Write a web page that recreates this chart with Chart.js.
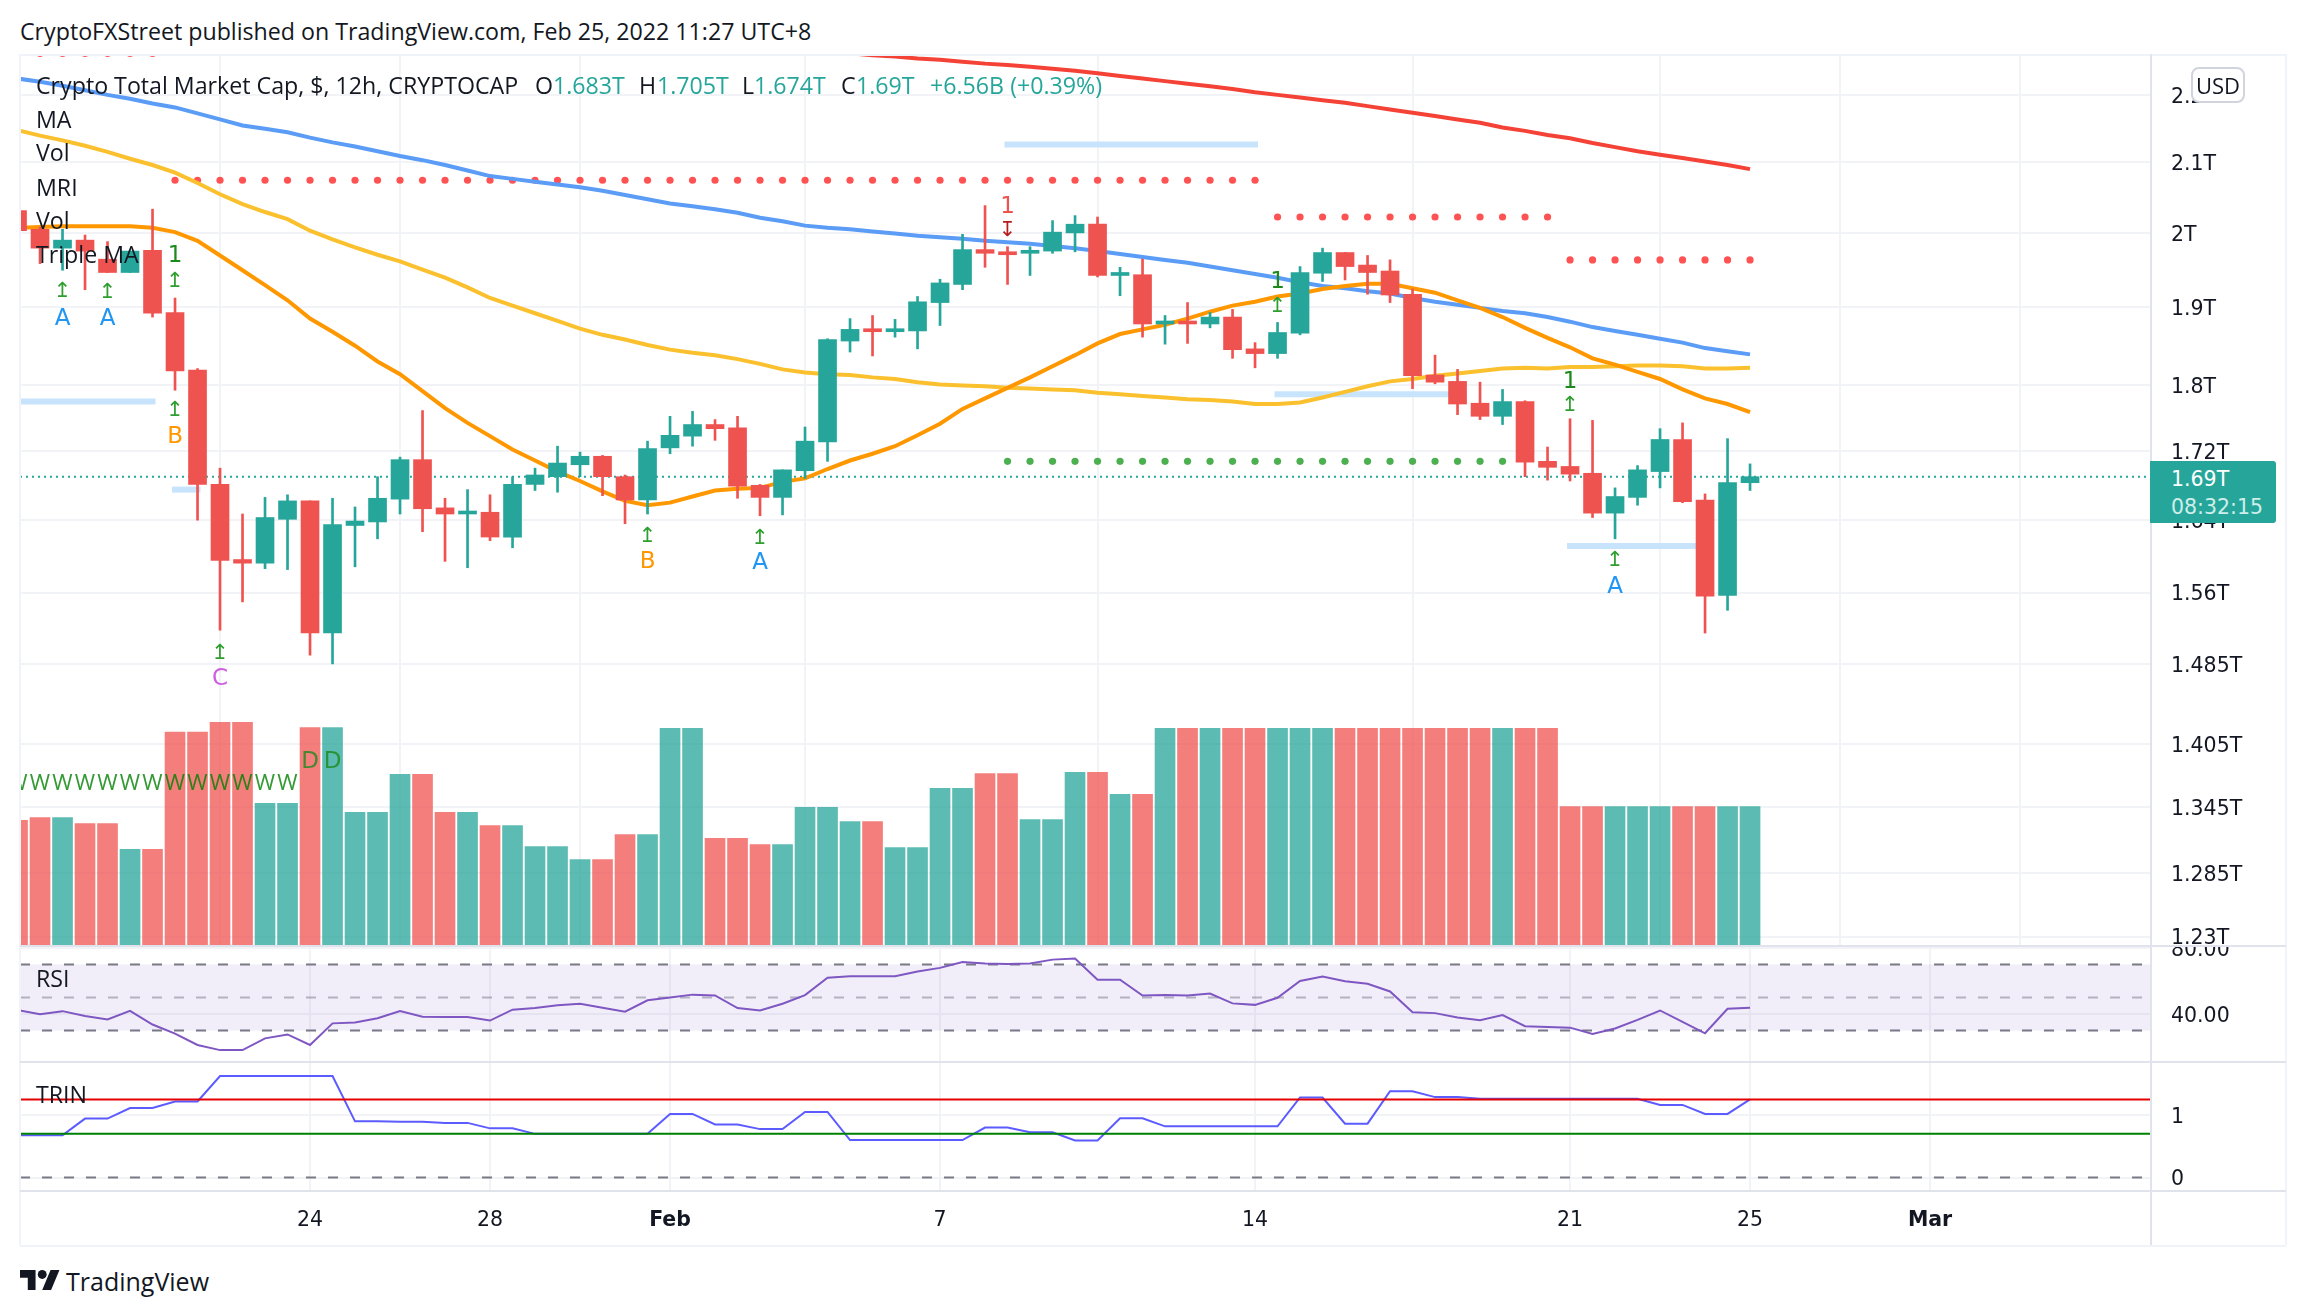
<!DOCTYPE html>
<html lang="en">
<head>
<meta charset="UTF-8" />
<title>Crypto Total Market Cap</title>
<script src="https://cdn.jsdelivr.net/npm/chart.js"></script>
<style>
  html, body { margin: 0; padding: 0; background: #fff; overflow: hidden; }
  body { width: 2306px; height: 1316px; position: relative; font-family: "Open Sans", sans-serif; color: #131722; }
  canvas { position: absolute; left: 20px; }
  .txt { position: absolute; white-space: pre; font-size: 23.2px; line-height: 26px; transform: translateY(-50%); z-index: 5; }
  .up { color: #26a69a; }
  .rule { position: absolute; background: #e0e3eb; z-index: 4; }
  .frame { position: absolute; background: #f0f3fa; z-index: 4; }
</style>
</head>
<body>
<canvas id="mainChart" width="2266" height="892" style="top:54px"></canvas>
<canvas id="rsiChart" width="2266" height="116" style="top:946px"></canvas>
<canvas id="trinChart" width="2266" height="184" style="top:1062px"></canvas>

<div class="frame" style="left:20px;top:54px;width:2266px;height:2px"></div>
<div class="frame" style="left:19px;top:54px;width:2px;height:1191px"></div>
<div class="frame" style="left:2285px;top:54px;width:2px;height:1191px"></div>
<div class="frame" style="left:20px;top:1245px;width:2266px;height:2px"></div>
<div class="rule" style="left:2150px;top:54px;width:2px;height:1191px"></div>
<div class="rule" style="left:20px;top:945px;width:2266px;height:2px"></div>
<div class="rule" style="left:20px;top:1061px;width:2266px;height:2px"></div>
<div class="rule" style="left:20px;top:1190px;width:2266px;height:2px"></div>

<div class="txt" style="left:20px;top:31px">CryptoFXStreet published on TradingView.com, Feb 25, 2022 11:27 UTC+8</div>
<div class="txt" style="left:36px;top:85px">Crypto Total Market Cap, $, 12h, CRYPTOCAP</div>
<div class="txt" style="left:535px;top:85px">O</div>
<div class="txt up" style="left:553px;top:85px">1.683T</div>
<div class="txt" style="left:639px;top:85px">H</div>
<div class="txt up" style="left:657px;top:85px">1.705T</div>
<div class="txt" style="left:742px;top:85px">L</div>
<div class="txt up" style="left:754px;top:85px">1.674T</div>
<div class="txt" style="left:841px;top:85px">C</div>
<div class="txt up" style="left:856px;top:85px">1.69T</div>
<div class="txt up" style="left:930px;top:85px">+6.56B (+0.39%)</div>
<div class="txt" style="left:36px;top:119px">MA</div>
<div class="txt" style="left:36px;top:152px">Vol</div>
<div class="txt" style="left:36px;top:187px">MRI</div>
<div class="txt" style="left:36px;top:220px">Vol</div>
<div class="txt" style="left:36px;top:254px">Triple MA</div>
<div class="txt" style="left:36px;top:978px">RSI</div>
<div class="txt" style="left:36px;top:1094px">TRIN</div>

<div style="position:absolute;left:2191px;top:67px;width:50px;height:32px;border:2px solid #d1d4dc;border-radius:8px;background:#fff;z-index:6;text-align:center;font-size:22px;line-height:32px">USD</div>
<div style="position:absolute;left:2150px;top:461px;width:126px;height:62px;background:#26a69a;border-radius:0 3px 3px 0;z-index:6;color:#fff;font-family:'DejaVu Sans',sans-serif;font-size:20.5px">
  <div style="position:absolute;left:21px;top:6px">1.69T</div>
  <div style="position:absolute;left:21px;top:34px;color:#cfeeea;font-size:20.5px">08:32:15</div>
</div>

<svg style="position:absolute;left:20px;top:1270px" width="40" height="20" viewBox="0 4 36 18"><path fill="#131722" d="M14 22H7V11H0V4h14v18zM28 22h-8l7.5-18h8L28 22z"/><circle fill="#131722" cx="20" cy="8" r="4"/></svg>
<div class="txt" style="left:66px;top:1281px;font-size:25px;font-weight:500">TradingView</div>

<script>
// every series starts at bar -13, bar 0 is the 24 Jan candle (12h bars)
const firstBar = -13;
const priceTicks = [2.2, 2.1, 2, 1.9, 1.8, 1.72, 1.64, 1.56, 1.485, 1.405, 1.345, 1.285, 1.23];
const dateTicks = [0, 8, 16, 28, 42, 56, 64, 72];
const dateLabels = ["24", "28", "Feb", "7", "14", "21", "25", "Mar"];
const monthLabels = ["Feb", "Mar"];

const opens = [2.031, 2.005, 1.979, 1.99, 1.964, 1.946, 1.976, 1.893, 1.819, 1.681, 1.596, 1.592, 1.641, 1.662, 1.517, 1.634, 1.638, 1.664, 1.71, 1.654, 1.647, 1.649, 1.621, 1.681, 1.69, 1.704, 1.714, 1.69, 1.663, 1.724, 1.738, 1.752, 1.748, 1.68, 1.666, 1.697, 1.731, 1.856, 1.871, 1.868, 1.869, 1.906, 1.93, 1.977, 1.974, 1.972, 1.975, 2.0, 2.012, 1.942, 1.943, 1.878, 1.88, 1.878, 1.887, 1.846, 1.84, 1.866, 1.945, 1.973, 1.956, 1.948, 1.917, 1.813, 1.805, 1.778, 1.762, 1.78, 1.708, 1.702, 1.694, 1.648, 1.666, 1.696, 1.734, 1.663, 1.557, 1.683];
const highs = [2.035, 2.008, 2.005, 1.997, 1.988, 1.975, 2.033, 1.912, 1.821, 1.7, 1.647, 1.666, 1.669, 1.662, 1.665, 1.655, 1.69, 1.713, 1.769, 1.665, 1.675, 1.669, 1.69, 1.7, 1.726, 1.719, 1.715, 1.692, 1.732, 1.762, 1.768, 1.758, 1.762, 1.681, 1.698, 1.749, 1.859, 1.885, 1.889, 1.884, 1.914, 1.937, 1.998, 2.038, 1.981, 1.981, 2.017, 2.024, 2.022, 1.953, 1.964, 1.889, 1.906, 1.893, 1.897, 1.854, 1.88, 1.954, 1.979, 1.973, 1.969, 1.963, 1.924, 1.838, 1.82, 1.804, 1.795, 1.781, 1.725, 1.759, 1.757, 1.677, 1.703, 1.747, 1.754, 1.67, 1.735, 1.705];
const lows = [2.0, 1.958, 1.949, 1.923, 1.946, 1.946, 1.887, 1.794, 1.64, 1.52, 1.55, 1.586, 1.585, 1.494, 1.485, 1.588, 1.619, 1.647, 1.627, 1.594, 1.587, 1.617, 1.609, 1.674, 1.672, 1.69, 1.668, 1.636, 1.647, 1.717, 1.726, 1.733, 1.665, 1.645, 1.646, 1.688, 1.708, 1.842, 1.837, 1.861, 1.846, 1.876, 1.923, 1.953, 1.93, 1.942, 1.972, 1.974, 1.94, 1.915, 1.861, 1.852, 1.853, 1.873, 1.834, 1.822, 1.834, 1.864, 1.934, 1.936, 1.917, 1.906, 1.796, 1.802, 1.764, 1.758, 1.752, 1.69, 1.686, 1.685, 1.643, 1.619, 1.657, 1.677, 1.66, 1.517, 1.541, 1.674];
const closes = [2.003, 1.979, 1.99, 1.975, 1.946, 1.975, 1.892, 1.818, 1.681, 1.595, 1.592, 1.643, 1.662, 1.517, 1.635, 1.639, 1.665, 1.71, 1.653, 1.647, 1.649, 1.621, 1.681, 1.692, 1.706, 1.714, 1.69, 1.663, 1.723, 1.739, 1.752, 1.747, 1.679, 1.666, 1.698, 1.732, 1.858, 1.871, 1.868, 1.871, 1.907, 1.932, 1.977, 1.972, 1.97, 1.976, 2.001, 2.012, 1.942, 1.944, 1.878, 1.88, 1.878, 1.887, 1.845, 1.84, 1.867, 1.946, 1.973, 1.954, 1.946, 1.916, 1.812, 1.804, 1.777, 1.762, 1.78, 1.707, 1.701, 1.693, 1.648, 1.667, 1.698, 1.734, 1.661, 1.556, 1.683, 1.69];
const volumes = [124.6, 127.3, 127.3, 121.4, 121.4, 95.5, 95.5, 212.6, 212.6, 222.4, 222.4, 141.5, 141.5, 217.3, 217.3, 132.4, 132.4, 170.5, 170.5, 132.4, 132.4, 119.4, 119.4, 98.2, 98.2, 85.3, 85.3, 110.4, 110.4, 216.5, 216.5, 106.5, 106.5, 100.2, 100.2, 137.5, 137.5, 123.4, 123.4, 97.4, 97.4, 156.4, 156.4, 171.3, 171.3, 125.3, 125.3, 172.5, 172.5, 150.5, 150.5, 216.5, 216.5, 216.5, 216.5, 216.5, 216.5, 216.5, 216.5, 216.5, 216.5, 216.5, 216.5, 216.5, 216.5, 216.5, 216.5, 216.5, 216.5, 138.3, 138.3, 138.3, 138.3, 138.3, 138.3, 138.3, 138.3, 138.3];

const blueMa = [2.225, 2.22, 2.214, 2.207, 2.2, 2.194, 2.187, 2.181, 2.172, 2.163, 2.154, 2.149, 2.144, 2.136, 2.129, 2.123, 2.116, 2.109, 2.103, 2.096, 2.088, 2.08, 2.076, 2.072, 2.068, 2.064, 2.059, 2.053, 2.047, 2.041, 2.037, 2.033, 2.028, 2.021, 2.016, 2.01, 2.007, 2.005, 2.002, 1.999, 1.996, 1.994, 1.992, 1.989, 1.987, 1.985, 1.982, 1.979, 1.975, 1.971, 1.967, 1.963, 1.959, 1.954, 1.949, 1.944, 1.939, 1.933, 1.928, 1.925, 1.921, 1.918, 1.912, 1.907, 1.903, 1.899, 1.895, 1.892, 1.887, 1.881, 1.874, 1.869, 1.864, 1.859, 1.854, 1.847, 1.843, 1.839];
const yellowMa = [2.147, 2.139, 2.132, 2.124, 2.115, 2.105, 2.096, 2.085, 2.07, 2.054, 2.04, 2.029, 2.019, 2.003, 1.991, 1.98, 1.97, 1.961, 1.95, 1.939, 1.926, 1.912, 1.902, 1.892, 1.882, 1.872, 1.864, 1.858, 1.851, 1.845, 1.841, 1.838, 1.833, 1.827, 1.82, 1.816, 1.814, 1.813, 1.81, 1.808, 1.804, 1.801, 1.8, 1.799, 1.797, 1.796, 1.795, 1.794, 1.791, 1.789, 1.787, 1.785, 1.783, 1.782, 1.78, 1.777, 1.777, 1.779, 1.785, 1.792, 1.799, 1.805, 1.808, 1.812, 1.815, 1.818, 1.821, 1.822, 1.821, 1.823, 1.823, 1.824, 1.825, 1.825, 1.824, 1.821, 1.821, 1.822];
const orangeMa = [2.007, 2.008, 2.009, 2.009, 2.009, 2.009, 2.007, 2.001, 1.989, 1.969, 1.949, 1.929, 1.909, 1.885, 1.868, 1.85, 1.83, 1.814, 1.793, 1.772, 1.754, 1.738, 1.722, 1.709, 1.696, 1.685, 1.673, 1.662, 1.657, 1.66, 1.667, 1.674, 1.676, 1.677, 1.684, 1.688, 1.699, 1.709, 1.717, 1.726, 1.739, 1.753, 1.771, 1.784, 1.797, 1.81, 1.824, 1.838, 1.853, 1.865, 1.871, 1.877, 1.885, 1.894, 1.902, 1.907, 1.914, 1.918, 1.924, 1.928, 1.931, 1.931, 1.925, 1.919, 1.909, 1.899, 1.887, 1.873, 1.86, 1.848, 1.834, 1.826, 1.817, 1.808, 1.795, 1.784, 1.777, 1.767];
// slow MA only comes into the visible range at bar 24
const redMaStart = 24;
const redMa = [2.264, 2.261, 2.259, 2.256, 2.254, 2.251, 2.248, 2.246, 2.243, 2.24, 2.237, 2.233, 2.229, 2.225, 2.221, 2.217, 2.213, 2.209, 2.204, 2.2, 2.196, 2.192, 2.188, 2.183, 2.178, 2.173, 2.168, 2.163, 2.158, 2.151, 2.146, 2.14, 2.135, 2.128, 2.122, 2.116, 2.111, 2.106, 2.101, 2.096, 2.09];

const rsiValues = [42.4, 39.8, 41.7, 38.8, 36.7, 41.9, 33.6, 28.1, 21.2, 18.1, 18.1, 25.2, 27.6, 21.2, 34.3, 34.8, 37.4, 41.7, 38.3, 38.1, 38.1, 36, 42.6, 43.6, 45.2, 46.2, 43.8, 41.4, 48.3, 50, 51.7, 51.2, 43.6, 42.1, 46.2, 51.4, 61.9, 62.9, 62.9, 62.9, 65.7, 67.9, 71.4, 70.5, 70.2, 70.5, 72.9, 73.6, 60.7, 60.7, 51.2, 51.4, 51.2, 52.4, 46.4, 45.5, 49.8, 60, 62.6, 59.8, 58.3, 53.6, 41, 40.5, 37.9, 36.2, 39.3, 32.6, 32.1, 31.7, 27.9, 31.2, 36.4, 42.1, 35.2, 28.3, 43.1, 43.8];
const trinValues = [0.676, 0.676, 0.676, 0.945, 0.945, 1.114, 1.114, 1.22, 1.22, 1.627, 1.627, 1.627, 1.627, 1.627, 1.627, 0.901, 0.901, 0.895, 0.895, 0.876, 0.876, 0.788, 0.788, 0.7, 0.7, 0.7, 0.7, 0.7, 0.7, 1.02, 1.02, 0.851, 0.851, 0.776, 0.776, 1.051, 1.051, 0.6, 0.6, 0.6, 0.6, 0.6, 0.6, 0.801, 0.801, 0.726, 0.726, 0.594, 0.594, 0.951, 0.951, 0.82, 0.82, 0.82, 0.82, 0.82, 0.82, 1.283, 1.283, 0.864, 0.864, 1.383, 1.383, 1.289, 1.289, 1.264, 1.264, 1.264, 1.264, 1.264, 1.264, 1.264, 1.264, 1.164, 1.164, 1.02, 1.02, 1.252];

const lastPrice = 1.69;
const rsiLevels = [70, 50, 30];
const rsiTicks = [80, 40];
const trinTicks = [1, 0];
const trinUpper = 1.25;
const trinLower = 0.7;

// dotted stop levels: price, first bar, last bar
const redDotPrices = [2.264, 2.074, 2.022, 1.963];
const redDotFrom = [-13, -6, 43, 56];
const redDotTo = [-7, 42, 55, 64];
const greenDotPrice = 1.708;
const greenDotFrom = 31;
const greenDotTo = 53;

const stripPrices = [1.78, 1.675, 2.126, 1.789, 1.611];
const stripFrom = [-13, -6, 31, 43, 56];
const stripTo = [-7, -5, 42, 51, 62];

// signal letters and arrows on the price pane
const markBars = [-11, -11, -9, -9, -6, -6, -6, -6, -4, -4, 15, 15, 20, 20, 31, 31, 43, 43, 56, 56, 58, 58, 0, 1];
const markPrices = [1.923, 1.887, 1.922, 1.887, 1.971, 1.936, 1.771, 1.739, 1.498, 1.472, 1.624, 1.595, 1.622, 1.594, 2.039, 2.006, 1.936, 1.903, 1.807, 1.777, 1.597, 1.568, 1.39, 1.39];
const markTexts = ["↥", "A", "↥", "A", "1", "↥", "↥", "B", "↥", "C", "↥", "B", "↥", "A", "1", "↧", "1", "↥", "1", "↥", "↥", "A", "D", "D"];
const markKinds = ["arrow", "blue", "arrow", "blue", "green", "arrow", "arrow", "orange", "arrow", "purple", "arrow", "orange", "arrow", "blue", "red", "darkred", "green", "arrow", "green", "arrow", "arrow", "blue", "green", "green"];
const wPrice = 1.368;
const wFrom = -13;
const wTo = -1;

const markColors = { arrow: "#2e9e2e", green: "#1b8a1b", blue: "#2196f3", orange: "#ff9800", purple: "#d05ce3", red: "#ef5350", darkred: "#b71c1c" };

const xMin = -12.89;
const xMax = 81.82;
const green = "#26a69a";
const red = "#ef5350";
const gridColor = "#f2f3f6";
const bars = opens.map((o, n) => n + firstBar);
const candleColors = opens.map((o, n) => (closes[n] >= o ? green : red));
const volumeColors = opens.map((o, n) => (closes[n] >= o ? "rgba(38,166,154,0.75)" : "rgba(239,83,80,0.75)"));

function series(values, start) {
  return values.map((y, n) => ({ x: n + start, y }));
}
function hline(y) {
  return [{ x: xMin, y }, { x: xMax, y }];
}
function lineSet(data, color, width, order, extra) {
  return Object.assign({ type: "line", data, borderColor: color, borderWidth: width, pointRadius: 0, tension: 0, order }, extra);
}
function dotSet(price, from, to, color) {
  const data = [];
  for (let b = from; b <= to; b++) data.push({ x: b, y: price });
  return { type: "line", data, showLine: false, pointRadius: 3.6, pointBackgroundColor: color, pointBorderWidth: 0, order: 6 };
}

function xScale(showLabels) {
  return {
    type: "linear",
    min: xMin,
    max: xMax,
    offset: false,
    grid: { color: gridColor, lineWidth: 2, drawTicks: false },
    border: { display: false },
    afterBuildTicks: (s) => { s.ticks = dateTicks.map((value) => ({ value })); },
    afterFit: (s) => {
      s.height = showLabels ? 56 : 0;
      s.paddingLeft = s.paddingRight = 0;
    },
    ticks: {
      display: showLabels,
      autoSkip: false,
      maxRotation: 0,
      padding: 18,
      color: "#131722",
      font: (c) => ({ family: "'DejaVu Sans'", size: 20.5, weight: monthLabels.includes(dateLabels[c.index]) ? "bold" : "normal" }),
      callback: (v) => dateLabels[dateTicks.indexOf(v)],
    },
  };
}
function yScale(extra, tickValues, label) {
  return Object.assign({
    position: "right",
    grid: { color: gridColor, lineWidth: 2, drawTicks: false },
    border: { display: false },
    afterBuildTicks: (s) => { s.ticks = tickValues.map((value) => ({ value })); },
    // tick padding would otherwise shrink the pane from top and bottom
    afterFit: (s) => {
      s.width = 135;
      s.paddingTop = s.paddingBottom = 0;
    },
    ticks: {
      autoSkip: false,
      padding: 20,
      labelOffset: 2.5,
      color: "#131722",
      font: { family: "'DejaVu Sans'", size: 20.5 },
      callback: label,
    },
  }, extra);
}
const baseOptions = {
  responsive: false,
  animation: false,
  events: [],
  layout: { padding: 0, autoPadding: false },
  plugins: { legend: { display: false }, tooltip: { enabled: false } },
};

const markPlugin = {
  id: "marks",
  afterDatasetsDraw(chart) {
    const { ctx, scales } = chart;
    ctx.save();
    ctx.textAlign = "center";
    ctx.textBaseline = "middle";
    markTexts.forEach((t, n) => {
      const small = markKinds[n] === "arrow" || t === "↧";
      ctx.font = (small ? "21px" : "23px") + " 'DejaVu Sans'";
      if (t === "D") ctx.globalAlpha = 0.8;
      ctx.fillStyle = markColors[markKinds[n]];
      ctx.fillText(t, scales.x.getPixelForValue(markBars[n]), scales.y.getPixelForValue(markPrices[n]) + 2);
      ctx.globalAlpha = 1;
    });
    ctx.font = "22px 'Open Sans'";
    ctx.fillStyle = "rgba(0,128,0,0.8)";
    for (let b = wFrom; b <= wTo; b++) {
      ctx.fillText("W", scales.x.getPixelForValue(b), scales.y.getPixelForValue(wPrice) + 1);
    }
    ctx.restore();
  },
};

new Chart(document.getElementById("mainChart"), {
  type: "bar",
  plugins: [markPlugin],
  data: {
    datasets: [
      { yAxisID: "yVol", data: bars.map((x, n) => ({ x, y: volumes[n] })), backgroundColor: volumeColors, barThickness: 20, grouped: false, order: 9 },
      ...stripPrices.map((p, n) => lineSet([{ x: stripFrom[n], y: p }, { x: stripTo[n], y: p }], "#c8e4fc", 6, 8, { borderCapStyle: "square" })),
      lineSet(hline(lastPrice), green, 2, 7, { borderDash: [2, 4] }),
      ...redDotPrices.map((p, n) => dotSet(p, redDotFrom[n], redDotTo[n], "#ff5252")),
      dotSet(greenDotPrice, greenDotFrom, greenDotTo, "#4caf50"),
      lineSet(series(redMa, redMaStart), "#f44336", 4, 5),
      lineSet(series(blueMa, firstBar), "#5b9cf6", 4, 5),
      lineSet(series(yellowMa, firstBar), "#fbc02d", 4, 5),
      lineSet(series(orangeMa, firstBar), "#ff9800", 4, 4),
      { data: bars.map((x, n) => ({ x, y: [lows[n], highs[n]] })), backgroundColor: candleColors, barThickness: 2, grouped: false, order: 2 },
      { data: bars.map((x, n) => ({ x, y: [opens[n], closes[n]] })), backgroundColor: candleColors, barThickness: 18, minBarLength: 3, grouped: false, order: 1 },
    ],
  },
  options: Object.assign({}, baseOptions, {
    scales: {
      x: xScale(false),
      y: yScale({ type: "logarithmic", min: 1.2221, max: 2.263 }, priceTicks, (v) => v + "T"),
      yVol: { display: false, min: -1, max: 890 },
    },
  }),
});

new Chart(document.getElementById("rsiChart"), {
  type: "line",
  data: {
    datasets: [
      lineSet(series(rsiValues, firstBar), "#7e57c2", 2, 1),
      lineSet(hline(rsiLevels[0]), "#787b86", 2, 3, { borderDash: [10, 12], fill: "+1", backgroundColor: "rgba(126,87,194,0.1)" }),
      lineSet(hline(rsiLevels[2]), "#787b86", 2, 3, { borderDash: [10, 12] }),
      lineSet(hline(rsiLevels[1]), "rgba(120,123,134,0.5)", 2, 3, { borderDash: [10, 12] }),
    ],
  },
  options: Object.assign({}, baseOptions, {
    scales: {
      x: xScale(false),
      y: yScale({ min: 10.9, max: 81.15 }, rsiTicks, (v) => v.toFixed(2)),
    },
  }),
});

new Chart(document.getElementById("trinChart"), {
  type: "line",
  data: {
    datasets: [
      lineSet(hline(trinUpper), "#e60000", 2, 1),
      lineSet(hline(trinLower), "#008000", 2, 1),
      lineSet(hline(0), "#787b86", 2, 3, { borderDash: [10, 12] }),
      lineSet(series(trinValues, firstBar), "#5b5bff", 2, 2),
    ],
  },
  options: Object.assign({}, baseOptions, {
    scales: {
      x: xScale(true),
      y: yScale({ min: -0.2, max: 1.852 }, trinTicks, (v) => String(v)),
    },
  }),
});
</script>
</body>
</html>
